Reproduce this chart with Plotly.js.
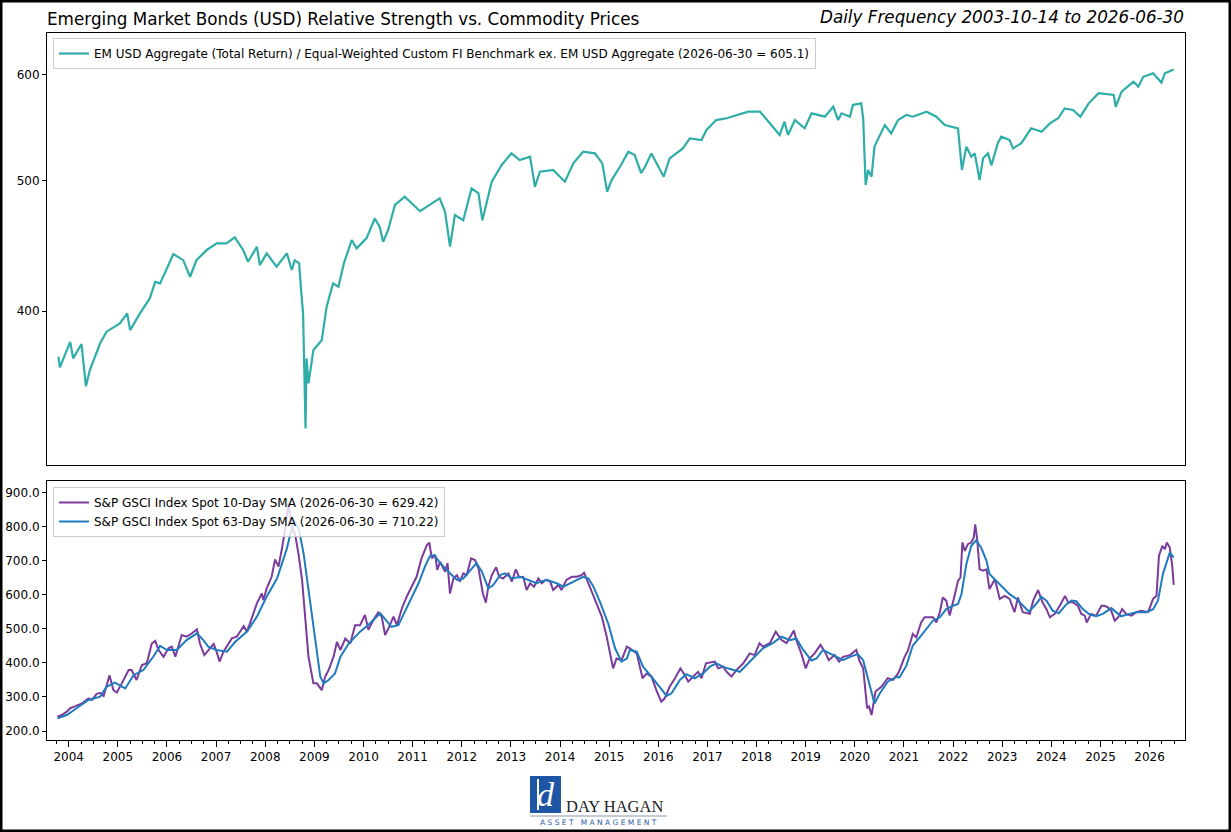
<!DOCTYPE html>
<html>
<head>
<meta charset="utf-8">
<script src="https://cdn.plot.ly/plotly-3.0.1.min.js"></script>
<style>
  html, body { margin: 0; padding: 0; background: #ffffff; }
  #chart { width: 1231px; height: 832px; }
</style>
</head>
<body>
<div id="chart"></div>
<script>
// ---------------- DATA ----------------
// Top panel: EM USD Aggregate relative strength (decimal years / values)
const emYears = [
  2003.79, 2003.82, 2004.03, 2004.09, 2004.26, 2004.35, 2004.43, 2004.64, 2004.77, 2005.04,
  2005.19, 2005.25, 2005.45, 2005.65, 2005.76, 2005.86, 2006.13, 2006.33, 2006.47, 2006.60,
  2006.81, 2007.01, 2007.21, 2007.38, 2007.55, 2007.65, 2007.83, 2007.89, 2008.03, 2008.23,
  2008.44, 2008.54, 2008.60, 2008.69, 2008.73, 2008.77, 2008.82, 2008.84, 2008.88, 2008.98,
  2009.15, 2009.25, 2009.38, 2009.49, 2009.60, 2009.76, 2009.86, 2010.06, 2010.23, 2010.33,
  2010.40, 2010.50, 2010.64, 2010.84, 2011.15, 2011.55, 2011.66, 2011.76, 2011.86, 2012.03,
  2012.20, 2012.34, 2012.42, 2012.61, 2012.81, 2013.01, 2013.18, 2013.39, 2013.49, 2013.59,
  2013.86, 2014.10, 2014.27, 2014.47, 2014.71, 2014.86, 2014.96, 2015.05, 2015.22, 2015.39,
  2015.52, 2015.65, 2015.73, 2015.86, 2016.11, 2016.23, 2016.50, 2016.64, 2016.88, 2016.98,
  2017.18, 2017.39, 2017.83, 2018.07, 2018.30, 2018.47, 2018.57, 2018.64, 2018.78, 2018.98,
  2019.12, 2019.39, 2019.56, 2019.66, 2019.73, 2019.90, 2019.96, 2020.13, 2020.17, 2020.22,
  2020.27, 2020.34, 2020.40, 2020.50, 2020.61, 2020.74, 2020.88, 2021.05, 2021.18, 2021.46,
  2021.66, 2021.83, 2022.00, 2022.10, 2022.18, 2022.27, 2022.37, 2022.44, 2022.54, 2022.61,
  2022.71, 2022.78, 2022.91, 2022.98, 2023.15, 2023.22, 2023.39, 2023.59, 2023.80, 2023.97,
  2024.14, 2024.27, 2024.44, 2024.59, 2024.76, 2024.96, 2025.27, 2025.31, 2025.43, 2025.67,
  2025.77, 2025.87, 2026.07, 2026.24, 2026.31, 2026.49
];
const emValues = [
  369.9, 363.2, 379.4, 368.8, 378.0, 351.7, 361.5, 378.5, 386.1, 391.6,
  398.4, 387.1, 398.4, 408.7, 420.5, 419.4, 441.0, 436.4, 424.2, 436.4,
  444.1, 449.2, 449.2, 453.8, 444.1, 435.2, 446.6, 432.7, 441.5, 431.5,
  441.5, 429.1, 436.4, 434.0, 414.6, 398.4, 327.1, 368.8, 353.4, 374.1,
  380.5, 403.0, 419.4, 417.0, 434.0, 451.7, 445.3, 453.0, 468.7, 462.0,
  450.3, 459.4, 479.7, 486.5, 474.6, 485.2, 474.1, 446.6, 471.4, 467.3,
  493.6, 489.4, 467.3, 499.2, 513.6, 524.0, 518.0, 521.0, 494.9, 507.8,
  509.3, 499.2, 515.1, 525.5, 524.0, 515.1, 490.7, 500.6, 512.1, 525.5,
  522.5, 506.5, 512.1, 524.0, 503.5, 519.6, 528.5, 537.7, 536.1, 545.5,
  554.8, 556.5, 562.8, 562.8, 550.1, 540.8, 553.2, 540.8, 554.8, 547.0,
  561.2, 558.0, 567.6, 554.8, 561.2, 558.0, 569.3, 570.9, 556.5, 496.4,
  509.3, 503.5, 530.1, 539.2, 550.1, 542.3, 554.8, 559.6, 558.0, 562.8,
  558.0, 550.1, 548.5, 547.0, 509.3, 530.1, 521.0, 524.0, 500.6, 519.6,
  524.0, 513.6, 533.2, 539.2, 536.1, 528.5, 533.2, 547.0, 543.8, 551.6,
  556.5, 566.0, 564.4, 558.0, 570.9, 580.9, 579.2, 567.6, 582.5, 592.5,
  587.5, 597.5, 601.0, 591.6, 601.0, 605.1
];

// Bottom panel: S&P GSCI Spot 10-day SMA
const gsci10Years = [
  2003.77, 2003.86, 2003.96, 2004.03, 2004.10, 2004.20, 2004.27, 2004.40, 2004.47, 2004.57,
  2004.64, 2004.71, 2004.83, 2004.91, 2004.98, 2005.08, 2005.22, 2005.28, 2005.38, 2005.49,
  2005.59, 2005.69, 2005.76, 2005.83, 2005.93, 2006.03, 2006.10, 2006.17, 2006.30, 2006.40,
  2006.51, 2006.61, 2006.67, 2006.76, 2006.84, 2006.95, 2007.01, 2007.07, 2007.15, 2007.22,
  2007.32, 2007.42, 2007.56, 2007.63, 2007.73, 2007.83, 2007.93, 2007.96, 2008.03, 2008.13,
  2008.20, 2008.27, 2008.34, 2008.41, 2008.47, 2008.54, 2008.61, 2008.68, 2008.75, 2008.81,
  2008.88, 2008.98, 2009.05, 2009.15, 2009.22, 2009.29, 2009.39, 2009.46, 2009.53, 2009.63,
  2009.73, 2009.83,
  2009.93, 2010.03, 2010.10, 2010.20, 2010.30, 2010.37, 2010.44, 2010.51, 2010.61, 2010.68,
  2010.78, 2010.88, 2010.98, 2011.08, 2011.18, 2011.29, 2011.34, 2011.39, 2011.46, 2011.50,
  2011.56, 2011.66, 2011.71, 2011.76, 2011.83, 2011.90, 2011.96, 2012.03, 2012.10, 2012.19,
  2012.27, 2012.34, 2012.43, 2012.49, 2012.54, 2012.61, 2012.70, 2012.76, 2012.84, 2012.95,
  2013.02, 2013.10, 2013.17, 2013.25, 2013.32, 2013.39, 2013.47, 2013.56, 2013.63, 2013.71,
  2013.80, 2013.86, 2013.97, 2014.03, 2014.13, 2014.24, 2014.34, 2014.44, 2014.49, 2014.58,
  2014.68, 2014.78, 2014.85, 2014.95, 2015.02, 2015.08, 2015.15, 2015.25, 2015.36,
  2015.42, 2015.56, 2015.62, 2015.68, 2015.76, 2015.86, 2015.96, 2016.06, 2016.13, 2016.23,
  2016.34, 2016.45, 2016.54, 2016.61, 2016.71, 2016.81, 2016.88, 2016.97, 2017.15, 2017.22,
  2017.32, 2017.39, 2017.49, 2017.59, 2017.73, 2017.86, 2017.96, 2018.06, 2018.13, 2018.27,
  2018.39, 2018.51, 2018.61, 2018.68, 2018.76, 2018.81, 2018.91, 2019.00, 2019.08, 2019.18,
  2019.30, 2019.39, 2019.47, 2019.59, 2019.68, 2019.76, 2019.90, 2020.03, 2020.10, 2020.17,
  2020.25, 2020.29, 2020.34, 2020.42, 2020.54, 2020.67, 2020.78, 2020.88,
  2020.91, 2021.01, 2021.08, 2021.18, 2021.25, 2021.35, 2021.42, 2021.59, 2021.66, 2021.73,
  2021.79, 2021.86, 2021.93, 2022.03, 2022.10, 2022.15, 2022.19, 2022.24, 2022.30, 2022.37,
  2022.42, 2022.45, 2022.49, 2022.54, 2022.61, 2022.68, 2022.74, 2022.85, 2022.95, 2023.05,
  2023.15, 2023.25, 2023.32, 2023.42, 2023.56, 2023.63, 2023.73, 2023.82, 2023.90, 2023.97,
  2024.07, 2024.17, 2024.28, 2024.34, 2024.44, 2024.54, 2024.61, 2024.68, 2024.72, 2024.81,
  2024.91, 2025.02, 2025.08, 2025.15, 2025.22, 2025.29, 2025.36, 2025.44, 2025.52, 2025.63,
  2025.73, 2025.83, 2025.97, 2026.07, 2026.14, 2026.19, 2026.26, 2026.31, 2026.35, 2026.41,
  2026.46, 2026.49
];
const gsci10 = [
  242, 247, 257, 267, 271, 276, 281, 296, 291, 309,
  312, 303, 364, 320, 313, 340, 379, 379, 350, 394,
  399, 457, 465, 438, 418, 443, 448, 418, 482, 477,
  487, 499, 457, 423, 438, 456, 433, 404, 433, 448,
  472, 477, 508, 492, 536, 575, 604, 585, 619, 653,
  704, 683, 736, 795, 869, 800, 776, 717, 643, 536,
  418, 340, 340, 320, 360, 379, 418, 462, 438, 472,
  457, 511,
  511, 541, 497, 526, 548, 536, 482, 502, 536, 511,
  560, 595, 624, 653, 707, 746, 753, 707, 717, 673,
  697, 668, 693, 604, 648, 658, 639, 663, 658, 707,
  702, 678, 604, 577, 624, 658, 681, 653, 648, 663,
  639, 675, 651, 653, 614, 634, 624, 648, 634, 644,
  639, 614, 629, 614, 644, 653, 653, 658, 665, 634,
  600, 565, 536, 477, 423, 384, 413, 408, 448,
  443, 428, 389, 355, 369, 360, 320, 286, 296, 330,
  355, 384, 364, 345, 360, 374, 355, 399, 404, 384,
  389, 374, 360, 379, 399, 428, 423, 458, 448, 458,
  492, 467, 458, 477, 495, 467, 428, 384, 413, 428,
  453, 433, 408, 423, 404, 418, 423, 438, 404, 384,
  267, 272, 247, 316, 330, 355, 350, 369,
  378, 417, 436, 485, 475, 519, 534, 534, 519, 549,
  592, 583, 539, 597, 641, 651, 754, 729, 749, 754,
  768, 807, 763, 675, 671, 675, 617, 646, 588, 597,
  588, 549, 592, 549, 544, 583, 614, 578, 558, 534,
  544, 568, 597, 578, 578, 568, 544, 539, 519, 544,
  539, 568, 568, 563, 553, 524, 534, 558, 544, 539,
  549, 553, 549, 588, 597, 715, 744, 734, 754, 739,
  685, 629.42
];

// Bottom panel: S&P GSCI Spot 63-day SMA
const gsci63Years = [
  2003.77, 2003.96, 2004.16, 2004.40, 2004.64, 2004.77, 2004.94, 2005.15, 2005.32, 2005.52,
  2005.72, 2005.86, 2006.00, 2006.20, 2006.40, 2006.61, 2006.74, 2006.84, 2007.01, 2007.22,
  2007.39, 2007.63, 2007.83, 2008.03, 2008.24, 2008.44, 2008.58, 2008.68, 2008.78, 2008.88,
  2009.02, 2009.12, 2009.19, 2009.29, 2009.42, 2009.53, 2009.70, 2009.87,
  2009.93, 2010.13, 2010.34, 2010.57, 2010.71, 2010.81, 2010.95, 2011.12, 2011.25, 2011.35,
  2011.44, 2011.56, 2011.73, 2011.90, 2012.03, 2012.17, 2012.30, 2012.41, 2012.54, 2012.64,
  2012.78, 2012.88, 2013.02, 2013.19, 2013.35, 2013.52, 2013.73, 2013.93, 2014.07, 2014.27,
  2014.47, 2014.58, 2014.68, 2014.81, 2014.98, 2015.12, 2015.25, 2015.36,
  2015.42, 2015.56, 2015.69, 2015.86, 2016.03, 2016.17, 2016.27, 2016.44, 2016.57, 2016.74,
  2016.91, 2017.05, 2017.18, 2017.35, 2017.66, 2017.86, 2018.13, 2018.33, 2018.51, 2018.68,
  2018.81, 2018.95, 2019.12, 2019.22, 2019.35, 2019.56, 2019.76, 2019.90, 2020.06, 2020.17,
  2020.27, 2020.40, 2020.51, 2020.67, 2020.84,
  2020.91, 2021.05, 2021.18, 2021.32, 2021.46, 2021.59, 2021.73, 2021.86, 2022.00, 2022.10,
  2022.17, 2022.27, 2022.37, 2022.47, 2022.57, 2022.68, 2022.74, 2022.88, 2023.01, 2023.15,
  2023.29, 2023.42, 2023.54, 2023.66, 2023.80, 2023.90, 2024.03, 2024.15, 2024.30, 2024.41,
  2024.51, 2024.64, 2024.78, 2024.91, 2025.05, 2025.22, 2025.32, 2025.42, 2025.59, 2025.73,
  2025.93, 2026.07, 2026.17, 2026.27, 2026.41, 2026.49
];
const gsci63 = [
  237, 247, 267, 291, 301, 330, 342, 325, 364, 379,
  418, 450, 438, 438, 467, 487, 467, 448, 438, 433,
  462, 492, 536, 595, 648, 736, 820, 795, 722, 614,
  457, 360, 340, 350, 369, 418, 457, 482,
  492, 516, 546, 506, 511, 541, 585, 634, 683, 714,
  717, 693, 668, 644, 648, 673, 693, 668, 619, 629,
  658, 663, 648, 653, 644, 634, 644, 634, 624, 639,
  653, 648, 624, 580, 516, 443, 404, 413,
  438, 433, 389, 360, 330, 303, 311, 350, 367, 355,
  369, 389, 399, 387, 374, 404, 443, 458, 477, 467,
  472, 438, 407, 413, 438, 423, 408, 418, 426, 408,
  350, 281, 311, 345, 358,
  358, 392, 451, 475, 500, 524, 534, 558, 568, 573,
  602, 690, 744, 760, 739, 700, 661, 641, 622, 602,
  588, 568, 551, 568, 594, 583, 553, 546, 571, 583,
  581, 558, 542, 537, 544, 561, 549, 537, 544, 549,
  549, 558, 583, 661, 724, 710.22
];

const yearTicks = [2004, 2005, 2006, 2007, 2008, 2009, 2010, 2011, 2012, 2013, 2014,
  2015, 2016, 2017, 2018, 2019, 2020, 2021, 2022, 2023, 2024, 2025, 2026];
const topTicks = [400, 500, 600];
const bottomTicks = [200, 300, 400, 500, 600, 700, 800, 900];

const emName = 'EM USD Aggregate (Total Return) / Equal-Weighted Custom FI Benchmark ex. EM USD Aggregate (2026-06-30 = 605.1)';
const sma10Name = 'S&amp;P GSCI Index Spot 10-Day SMA (2026-06-30 = 629.42)';
const sma63Name = 'S&amp;P GSCI Index Spot 63-Day SMA (2026-06-30 = 710.22)';

// ---------------- STYLE / LAYOUT ----------------
const W = 1231, H = 832;
const px = v => v / W;           // pixel -> paper x
const py = v => (H - v) / H;     // pixel (from top) -> paper y
const FONT = 'DejaVu Sans, Arial, sans-serif';
const xRange = [2003.558, 2026.72];
const xDomain = [px(47), px(1185)];

const traces = [
  { x: emYears, y: emValues, type: 'scatter', mode: 'lines', name: emName,
    line: { color: '#2fada8', width: 2.2 }, xaxis: 'x', yaxis: 'y', legend: 'legend' },
  { x: gsci10Years, y: gsci10, type: 'scatter', mode: 'lines', name: sma10Name,
    line: { color: '#7a3b9d', width: 2 }, xaxis: 'x2', yaxis: 'y2', legend: 'legend2' },
  { x: gsci63Years, y: gsci63, type: 'scatter', mode: 'lines', name: sma63Name,
    line: { color: '#1f7bbd', width: 2 }, xaxis: 'x2', yaxis: 'y2', legend: 'legend2' }
];

const axisCommon = {
  showgrid: false, zeroline: false, showline: true, linecolor: '#000', linewidth: 1,
  tickcolor: '#000', tickfont: { family: FONT, size: 12, color: '#000' }
};

const layout = {
  width: W, height: H,
  margin: { l: 0, r: 0, t: 0, b: 0, pad: 0 },
  paper_bgcolor: '#ffffff', plot_bgcolor: '#ffffff',
  font: { family: FONT, color: '#000' },
  showlegend: true,
  title: {
    text: 'Emerging Market Bonds (USD) Relative Strength vs. Commodity Prices',
    x: px(47), xanchor: 'left', xref: 'paper',
    y: py(19), yanchor: 'middle', yref: 'container',
    font: { family: FONT, size: 16.8, color: '#000' }
  },
  xaxis: Object.assign({}, axisCommon, {
    domain: xDomain, anchor: 'y', range: xRange, mirror: true,
    showticklabels: false, ticks: ''
  }),
  yaxis: Object.assign({}, axisCommon, {
    domain: [py(465), py(33)], anchor: 'x', type: 'log', range: [2.4875, 2.8089],
    tickmode: 'array', tickvals: topTicks, ticktext: topTicks.map(String),
    ticks: 'outside', ticklen: 4, mirror: true
  }),
  yaxis3: Object.assign({}, axisCommon, {
    overlaying: 'y', side: 'right', anchor: 'x', type: 'log', range: [2.4875, 2.8089],
    tickmode: 'array', tickvals: topTicks, ticktext: topTicks.map(String),
    ticks: 'outside', ticklen: 4
  }),
  xaxis2: Object.assign({}, axisCommon, {
    domain: xDomain, anchor: 'y2', range: xRange, mirror: true,
    tickmode: 'array', tickvals: yearTicks, ticktext: yearTicks.map(String),
    ticks: 'outside', ticklen: 6,
    minor: { tickmode: 'linear', tick0: 2004, dtick: 0.25, ticks: 'outside', ticklen: 3, tickcolor: '#000', showgrid: false }
  }),
  yaxis2: Object.assign({}, axisCommon, {
    domain: [py(740), py(481)], anchor: 'x2', range: [173.6, 934.4],
    tickmode: 'array', tickvals: bottomTicks, ticktext: bottomTicks.map(v => v.toFixed(1)),
    ticks: 'outside', ticklen: 4, mirror: true
  }),
  yaxis4: Object.assign({}, axisCommon, {
    overlaying: 'y2', side: 'right', anchor: 'x2', range: [173.6, 934.4],
    tickmode: 'array', tickvals: bottomTicks, ticktext: bottomTicks.map(v => v.toFixed(1)),
    ticks: 'outside', ticklen: 4
  }),
  legend: {
    x: px(53), y: py(38), xanchor: 'left', yanchor: 'top', xref: 'paper', yref: 'paper',
    bgcolor: 'rgba(255,255,255,0.8)', bordercolor: '#cccccc', borderwidth: 1,
    font: { family: FONT, size: 12, color: '#000' }, tracegroupgap: 0
  },
  legend2: {
    x: px(53), y: py(487), xanchor: 'left', yanchor: 'top', xref: 'paper', yref: 'paper',
    bgcolor: 'rgba(255,255,255,0.8)', bordercolor: '#cccccc', borderwidth: 1,
    font: { family: FONT, size: 12, color: '#000' }, tracegroupgap: 0
  },
  annotations: [
    { text: '<i>Daily Frequency 2003-10-14 to 2026-06-30</i>', xref: 'paper', yref: 'paper',
      x: px(1186), y: py(17), xanchor: 'right', yanchor: 'middle', showarrow: false,
      font: { family: FONT, size: 16.8, color: '#000' } },
    // logo
    { text: '<i>d</i>', xref: 'paper', yref: 'paper', x: px(546), y: py(794),
      xanchor: 'center', yanchor: 'middle', showarrow: false,
      font: { family: 'Liberation Serif, serif', size: 34, color: '#ffffff' } },
    { text: 'DAY HAGAN', xref: 'paper', yref: 'paper', x: px(564), y: py(806),
      xanchor: 'left', yanchor: 'middle', showarrow: false,
      font: { family: 'Liberation Serif, serif', size: 16.5, color: '#222222' } },
    { text: 'A S S E T   M A N A G E M E N T', xref: 'paper', yref: 'paper', x: px(598), y: py(822),
      xanchor: 'center', yanchor: 'middle', showarrow: false,
      font: { family: FONT, size: 7.5, color: '#2b5aa6' } }
  ],
  shapes: [
    { type: 'rect', xref: 'paper', yref: 'paper', x0: 0, x1: 1, y0: 0, y1: 1,
      line: { color: '#000', width: 5 }, fillcolor: 'rgba(0,0,0,0)', layer: 'above' },
    { type: 'rect', xref: 'paper', yref: 'paper', x0: px(530), x1: px(561), y0: py(813), y1: py(776),
      line: { width: 0 }, fillcolor: '#1f55a5', layer: 'below' },
    { type: 'line', xref: 'paper', yref: 'paper', x0: px(538), x1: px(538), y0: py(810), y1: py(779),
      line: { color: '#ffffff', width: 2 }, layer: 'above' },
    { type: 'line', xref: 'paper', yref: 'paper', x0: px(530), x1: px(667), y0: py(816), y1: py(816),
      line: { color: '#8a96a8', width: 1 }, layer: 'above' }
  ]
};

Plotly.newPlot('chart', traces, layout, { displayModeBar: false, staticPlot: true });
</script>
</body>
</html>
